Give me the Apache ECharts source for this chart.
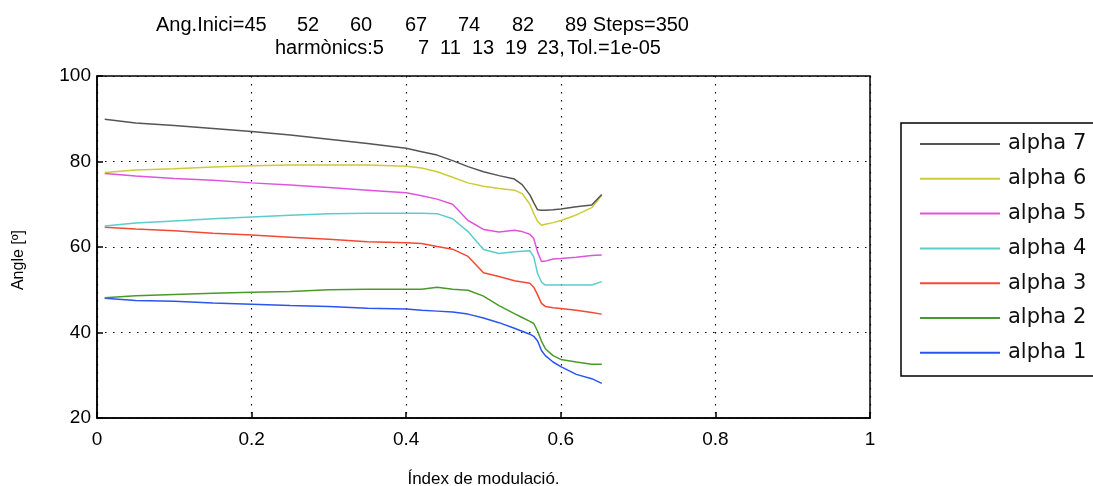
<!DOCTYPE html>
<html>
<head>
<meta charset="utf-8">
<script src="https://cdn.jsdelivr.net/npm/echarts@6/dist/echarts.min.js"></script>
<style>
  html, body { margin: 0; padding: 0; background: #fff; }
  #chart { width: 1093px; height: 486px; }
</style>
</head>
<body>
<div id="chart"></div>
<script>
// Modulation index samples (x axis)
const modIndex = [0.01, 0.05, 0.10, 0.15, 0.20, 0.25, 0.30, 0.35, 0.40, 0.42, 0.44, 0.46, 0.48, 0.50,
                  0.52, 0.54, 0.55, 0.56, 0.565, 0.57, 0.575, 0.58, 0.59, 0.60, 0.62, 0.64, 0.653];

// Switching angles [º] for each modulation index
const alpha7 = [89.9, 89.0, 88.4, 87.7, 87.0, 86.2, 85.2, 84.2, 83.1, 82.3, 81.5, 80.2, 78.8, 77.6,
                76.7, 75.9, 74.6, 72.2, 70.4, 68.7, 68.6, 68.6, 68.7, 68.9, 69.4, 69.8, 72.3];
const alpha6 = [77.4, 78.0, 78.3, 78.7, 79.0, 79.2, 79.2, 79.2, 78.9, 78.5, 77.6, 76.3, 75.0, 74.2,
                73.7, 73.3, 72.5, 70.0, 67.8, 66.0, 65.1, 65.3, 65.7, 66.2, 67.5, 69.2, 72.1];
const alpha5 = [77.2, 76.6, 76.0, 75.6, 75.0, 74.5, 73.9, 73.3, 72.7, 72.0, 71.2, 70.0, 66.2, 64.1,
                63.5, 63.9, 63.6, 63.0, 62.0, 58.8, 56.6, 56.7, 57.2, 57.3, 57.6, 58.0, 58.1];
const alpha4 = [64.9, 65.6, 66.1, 66.6, 67.0, 67.4, 67.8, 67.9, 67.9, 67.9, 67.8, 66.6, 63.6, 59.4,
                58.5, 58.9, 59.0, 59.1, 57.7, 53.8, 51.8, 51.1, 51.1, 51.1, 51.1, 51.1, 51.9];
const alpha3 = [64.6, 64.2, 63.8, 63.2, 62.8, 62.3, 61.8, 61.2, 61.0, 60.8, 60.1, 59.5, 57.8, 54.0,
                53.1, 52.1, 51.8, 51.5, 50.6, 48.8, 46.8, 46.1, 45.8, 45.6, 45.2, 44.7, 44.3];
const alpha2 = [48.1, 48.6, 48.9, 49.2, 49.4, 49.6, 50.0, 50.1, 50.1, 50.1, 50.6, 50.1, 49.9, 48.5,
                46.3, 44.4, 43.5, 42.6, 42.1, 40.3, 38.0, 36.2, 34.6, 33.7, 33.1, 32.6, 32.6];
const alpha1 = [48.0, 47.5, 47.3, 46.9, 46.6, 46.3, 46.1, 45.7, 45.5, 45.2, 45.0, 44.8, 44.3, 43.4,
                42.3, 41.0, 40.3, 39.6, 39.1, 38.0, 35.8, 34.6, 33.1, 32.0, 30.2, 29.2, 28.1];

const seriesNames = ['alpha 7', 'alpha 6', 'alpha 5', 'alpha 4', 'alpha 3', 'alpha 2', 'alpha 1'];
const seriesValues = [alpha7, alpha6, alpha5, alpha4, alpha3, alpha2, alpha1];
const seriesColors = ['#555555', '#cccc3a', '#dd55dd', '#5ccccc', '#f04a35', '#4a9a2a', '#2a55f0'];

// Two-line heading, written as separate words
const titleWords1 = ['Ang.Inici=45', '52', '60', '67', '74', '82', '89 Steps=350'];
const titleWords2 = ['harmònics:5', '7', '11', '13', '19', '23,', 'Tol.=1e-05'];
const xName = 'Índex de modulació.';
const yName = 'Angle [º]';

// Layout of the heading words (left edge of each word, px)
const titleX1 = [156, 297, 350, 405, 458, 512, 565];
const titleX2 = [275, 418, 440, 472, 505, 537, 567];

const sans = "'Liberation Sans', Arial, sans-serif";
const chart = echarts.init(document.getElementById('chart'), null, { renderer: 'canvas' });

const series = seriesNames.map((name, i) => ({
  name: name,
  type: 'line',
  data: modIndex.map((x, j) => [x, seriesValues[i][j]]),
  showSymbol: false,
  lineStyle: { color: seriesColors[i], width: 1.5 },
  itemStyle: { color: seriesColors[i] },
  z: 10 - i
}));

function headingText(words, xs, y) {
  return words.map((w, i) => ({
    type: 'text',
    x: xs[i], y: y,
    style: { text: w, fontFamily: sans, fontSize: 20, fill: '#000', textVerticalAlign: 'middle' }
  }));
}

chart.setOption({
  animation: false,
  backgroundColor: '#ffffff',
  grid: {
    left: 97, right: 223, top: 76, bottom: 68,
    containLabel: false,
    outerBoundsMode: 'none',
    show: true, borderColor: '#000', borderWidth: 1.5, backgroundColor: '#fff'
  },
  legend: {
    data: seriesNames,
    orient: 'vertical',
    left: 915, top: 127,
    icon: 'rect',
    itemWidth: 80, itemHeight: 2,
    itemGap: 10.8,
    textStyle: { fontFamily: "'DejaVu Sans', sans-serif", fontSize: 21, color: '#111', lineHeight: 24, padding: [0, 0, 0, 3] }
  },
  graphic: [
    {
      type: 'rect',
      shape: { x: 901, y: 123, width: 220, height: 253 },
      style: { fill: 'none', stroke: '#000', lineWidth: 1.5 },
      z: 0
    },
    {
      type: 'text',
      x: 19, y: 260, rotation: Math.PI / 2,
      style: { text: yName, fontFamily: sans, fontSize: 16, fill: '#000', textAlign: 'center', textVerticalAlign: 'middle' }
    },
    ...headingText(titleWords1, titleX1, 25),
    ...headingText(titleWords2, titleX2, 48)
  ],
  xAxis: {
    type: 'value', min: 0, max: 1, interval: 0.2,
    name: xName, nameLocation: 'middle', nameGap: 53,
    nameTextStyle: { fontFamily: sans, fontSize: 17, color: '#000' },
    axisLine: { show: true, lineStyle: { color: '#000', width: 1.5 } },
    axisTick: { show: true, inside: true, length: 6, lineStyle: { color: '#000', width: 1.5 } },
    axisLabel: { fontFamily: sans, fontSize: 19, color: '#000', margin: 12 },
    splitLine: { show: true, lineStyle: { color: '#000', width: 1.2, type: [1.5, 6.5] } }
  },
  yAxis: {
    type: 'value', min: 20, max: 100, interval: 20,
    axisLine: { show: true, lineStyle: { color: '#000', width: 1.5 } },
    axisTick: { show: true, inside: true, length: 6, lineStyle: { color: '#000', width: 1.5 } },
    axisLabel: { fontFamily: sans, fontSize: 19, color: '#000', margin: 6 },
    splitLine: { show: true, lineStyle: { color: '#000', width: 1.2, type: [1.5, 6.5] } }
  },
  series: series
});
</script>
</body>
</html>
